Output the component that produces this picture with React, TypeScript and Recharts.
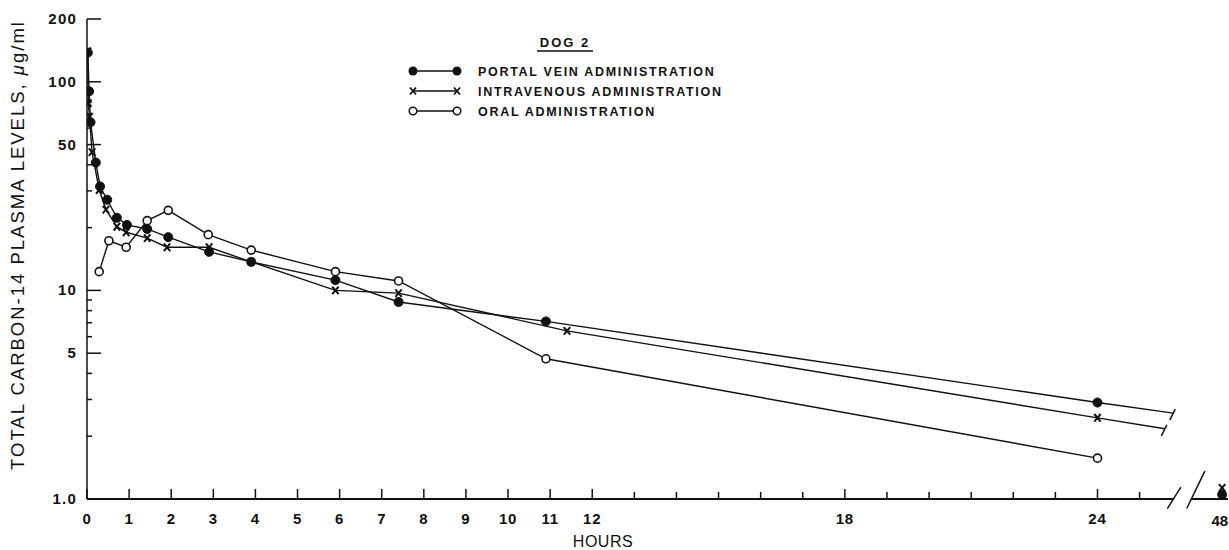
import React from 'react';
import { ComposedChart, Line, XAxis, YAxis, ReferenceLine, Legend, Label } from 'recharts';

// ---------- data ----------
const portalTimes = [0.02, 0.05, 0.083, 0.21, 0.31, 0.48, 0.71, 0.95, 1.43, 1.93, 2.9, 3.9, 5.9, 7.4, 10.9, 24];
const portalValues = [138, 90, 64, 41, 31.5, 27.2, 22.3, 20.6, 19.7, 18, 15.3, 13.7, 11.2, 8.8, 7.1, 2.9];
const ivTimes = [0.02, 0.03, 0.06, 0.12, 0.29, 0.45, 0.71, 0.93, 1.43, 1.9, 2.9, 3.9, 5.9, 7.4, 11.4, 24];
const ivValues = [140, 79, 68, 46, 30.3, 24.4, 20.2, 19, 17.8, 16.1, 16.1, 13.7, 10, 9.7, 6.4, 2.45];
const oralTimes = [0.29, 0.52, 0.93, 1.43, 1.93, 2.88, 3.9, 5.9, 7.4, 10.9, 24];
const oralValues = [12.3, 17.3, 16.1, 21.6, 24.2, 18.5, 15.6, 12.3, 11.1, 4.7, 1.57];

// continuation of the curves past 24 h (toward the 48 h break)
const portalExtTimes = [24, 25.8];
const portalExtValues = [2.9, 2.58];
const ivExtTimes = [24, 25.6];
const ivExtValues = [2.45, 2.17];

// 48 h samples (drawn after the axis break)
const portal48Times = [48];
const portal48Values = [1.05];
const iv48Times = [48];
const iv48Values = [1.13];

// ---------- axis ----------
const BREAK_POS = 26.96; // where hour 48 sits after the axis break
const X_MAX = 27.1;
const xTickHours = [0, 1, 2, 3, 4, 5, 6, 7, 8, 9, 10, 11, 12, 13, 14, 15, 16, 17, 18, 19, 20, 21, 22, 23, 24, 25, 48];
const xLabelHours = [0, 1, 2, 3, 4, 5, 6, 7, 8, 9, 10, 11, 12, 18, 24, 48];
const yTicks = [1, 2, 3, 4, 5, 6, 7, 8, 9, 10, 20, 30, 40, 50, 60, 70, 80, 90, 100, 200];
const yLabelValues = [1, 5, 10, 50, 100, 200];
const yLabelTexts = ['1.0', '5', '10', '50', '100', '200'];

const TITLE = 'DOG 2';
const seriesNames = ['PORTAL VEIN ADMINISTRATION', 'INTRAVENOUS ADMINISTRATION', 'ORAL ADMINISTRATION'];
const X_TITLE = 'HOURS';

const toAxis = (h: number) => (h === 48 ? BREAK_POS : h);
const fromAxis = (a: number) => (Math.abs(a - BREAK_POS) < 1e-6 ? 48 : a);

const zip = (ts: number[], vs: number[]) => ts.map((t, i) => ({ t: toAxis(t), v: vs[i] }));
const portalData = zip(portalTimes, portalValues);
const ivData = zip(ivTimes, ivValues);
const oralData = zip(oralTimes, oralValues);
const portalExt = zip(portalExtTimes, portalExtValues);
const ivExt = zip(ivExtTimes, ivExtValues);
const portal48 = zip(portal48Times, portal48Values);
const iv48 = zip(iv48Times, iv48Values);

const FONT = '"Liberation Sans", Arial, Helvetica, sans-serif';
const INK = '#111';

// ---------- markers ----------
const FilledDot = (p: any) =>
  p.cx == null ? <g key={`f${p.index}`} /> : <circle key={`f${p.index}-${p.cx}`} cx={p.cx} cy={p.cy} r={4.5} fill={INK} stroke={INK} strokeWidth={1} />;
const OpenDot = (p: any) =>
  p.cx == null ? <g key={`o${p.index}`} /> : <circle key={`o${p.index}-${p.cx}`} cx={p.cx} cy={p.cy} r={4} fill="#fff" stroke={INK} strokeWidth={1.6} />;
const CrossDot = (p: any) =>
  p.cx == null ? <g key={`x${p.index}`} /> : (
    <path key={`x${p.index}-${p.cx}`} d={`M${p.cx - 3.2},${p.cy - 3.8}L${p.cx + 3.2},${p.cy + 3.8}M${p.cx - 3.2},${p.cy + 3.8}L${p.cx + 3.2},${p.cy - 3.8}`} stroke={INK} strokeWidth={2} fill="none" />
  );
const EndSlash = (p: any) => {
  if (p.cx == null || p.index !== p.points.length - 1) return <g key={`s${p.index}`} />;
  return <line key={`s${p.index}-${p.cx}`} x1={p.cx + 2} y1={p.cy - 4} x2={p.cx - 3.5} y2={p.cy + 7} stroke={INK} strokeWidth={1.5} />;
};

// ---------- ticks ----------
const YTick = (props: any) => {
  const { x, y, payload } = props;
  const idx = yLabelValues.indexOf(payload.value);
  const major = idx >= 0;
  return (
    <g>
      <line x1={x} y1={y} x2={x + (major ? 14 : 5)} y2={y} stroke={INK} strokeWidth={1.5} />
      {major && (
        <text x={x - 10} y={y + 5} textAnchor="end" fontFamily={FONT} fontWeight="bold" fontSize={15} letterSpacing={1.2} fill={INK}>
          {yLabelTexts[idx]}
        </text>
      )}
    </g>
  );
};

const XTick = (props: any) => {
  const { x, y, payload } = props;
  const h = fromAxis(payload.value);
  const labeled = xLabelHours.indexOf(h) >= 0;
  const last = h === 48;
  return (
    <g>
      <line x1={x} y1={y} x2={x} y2={y - (labeled && !last ? 10 : 7)} stroke={INK} strokeWidth={1.5} />
      {labeled && (
        <text x={last ? x + 6 : x} y={y + (last ? 27 : 25)} textAnchor={last ? 'end' : 'middle'} fontFamily={FONT} fontWeight="bold" fontSize={15} letterSpacing={last ? 0 : 0.8} fill={INK}>
          {String(h)}
        </text>
      )}
    </g>
  );
};

// ---------- legend ----------
const markerFor = (i: number, cx: number, cy: number) => {
  if (i === 0) return <circle cx={cx} cy={cy} r={4.5} fill={INK} />;
  if (i === 1) return <path d={`M${cx - 3},${cy - 3.5}L${cx + 3},${cy + 3.5}M${cx - 3},${cy + 3.5}L${cx + 3},${cy - 3.5}`} stroke={INK} strokeWidth={1.8} />;
  return <circle cx={cx} cy={cy} r={3.8} fill="#fff" stroke={INK} strokeWidth={1.5} />;
};

const renderLegend = () => (
  <svg width={420} height={100} style={{ display: 'block', overflow: 'visible' }}>
    <text x={185} y={22} textAnchor="middle" fontFamily={FONT} fontWeight="bold" fontSize={13} letterSpacing={2} fill={INK}>
      {TITLE}
    </text>
    <line x1={157} x2={213} y1={26} y2={26} stroke={INK} strokeWidth={1.4} />
    {seriesNames.map((name, i) => {
      const cy = 46 + i * 20;
      return (
        <g key={name}>
          <line x1={33} x2={77} y1={cy} y2={cy} stroke={INK} strokeWidth={1.5} />
          {markerFor(i, 33, cy)}
          {markerFor(i, 77, cy)}
          <text x={98} y={cy + 5} fontFamily={FONT} fontWeight="bold" fontSize={12.5} letterSpacing={1.7} fill={INK}>
            {name}
          </text>
        </g>
      );
    })}
  </svg>
);

// axis-break decoration (data coordinates)
const axisSegA = [{ x: 0, y: 1 }, { x: 25.82, y: 1 }];
const axisSegB = [{ x: 26.22, y: 1 }, { x: X_MAX, y: 1 }];
const slashA = [{ x: 25.98, y: 1.14 }, { x: 25.66, y: 0.9 }];
const slashB = [{ x: 26.55, y: 1.36 }, { x: 26.12, y: 0.9 }];

export default function App() {
  return (
    <div style={{ position: 'absolute', left: 0, top: 0, width: 1229, height: 550, background: '#fff' }}>
      <ComposedChart width={1229} height={550} margin={{ top: 19, right: 1, bottom: 0, left: 0 }}>
        <XAxis
          type="number"
          dataKey="t"
          domain={[0, X_MAX]}
          ticks={xTickHours.map(toAxis)}
          interval={0}
          allowDataOverflow
          axisLine={false}
          tickLine={false}
          tickSize={0}
          tickMargin={0}
          tick={<XTick />}
          height={51}
        >
          <Label
            content={() => (
              <text x={603} y={547} textAnchor="middle" fontFamily={FONT} fontSize={16} letterSpacing={0.5} fill={INK}>
                {X_TITLE}
              </text>
            )}
          />
        </XAxis>
        <YAxis
          type="number"
          dataKey="v"
          scale="log"
          domain={[1, 200]}
          ticks={yTicks}
          interval={0}
          allowDataOverflow
          axisLine={{ stroke: INK, strokeWidth: 1.5 }}
          tickLine={false}
          tickSize={0}
          tickMargin={0}
          tick={<YTick />}
          width={87}
        >
          <Label
            content={() => (
              <text x={24} y={245} transform="rotate(-90 24 245)" textAnchor="middle" fontFamily={FONT} fontSize={18.5} letterSpacing={2} fill={INK}>
                TOTAL CARBON-14 PLASMA LEVELS, <tspan fontStyle="italic">μ</tspan>g/ml
              </text>
            )}
          />
        </YAxis>

        <ReferenceLine segment={axisSegA} stroke={INK} strokeWidth={1.8} ifOverflow="visible" />
        <ReferenceLine segment={axisSegB} stroke={INK} strokeWidth={1.8} ifOverflow="visible" />
        <ReferenceLine segment={slashA} stroke={INK} strokeWidth={1.5} ifOverflow="visible" />
        <ReferenceLine segment={slashB} stroke={INK} strokeWidth={1.5} ifOverflow="visible" />

        <Legend layout="vertical" align="center" verticalAlign="middle" content={renderLegend} wrapperStyle={{ left: 380, top: 25, width: 420, height: 100 }} />

        <Line data={portalExt} dataKey="v" type="linear" stroke={INK} strokeWidth={1.4} dot={EndSlash} activeDot={false} legendType="none" isAnimationActive={false} />
        <Line data={ivExt} dataKey="v" type="linear" stroke={INK} strokeWidth={1.4} dot={EndSlash} activeDot={false} legendType="none" isAnimationActive={false} />
        <Line data={oralData} dataKey="v" name={seriesNames[2]} type="linear" stroke={INK} strokeWidth={1.4} dot={OpenDot} activeDot={false} isAnimationActive={false} />
        <Line data={ivData} dataKey="v" name={seriesNames[1]} type="linear" stroke={INK} strokeWidth={1.4} dot={CrossDot} activeDot={false} isAnimationActive={false} />
        <Line data={portalData} dataKey="v" name={seriesNames[0]} type="linear" stroke={INK} strokeWidth={1.4} dot={FilledDot} activeDot={false} isAnimationActive={false} />
        <Line data={portal48} dataKey="v" stroke="none" dot={FilledDot} activeDot={false} legendType="none" isAnimationActive={false} />
        <Line data={iv48} dataKey="v" stroke="none" dot={CrossDot} activeDot={false} legendType="none" isAnimationActive={false} />
      </ComposedChart>
    </div>
  );
}
